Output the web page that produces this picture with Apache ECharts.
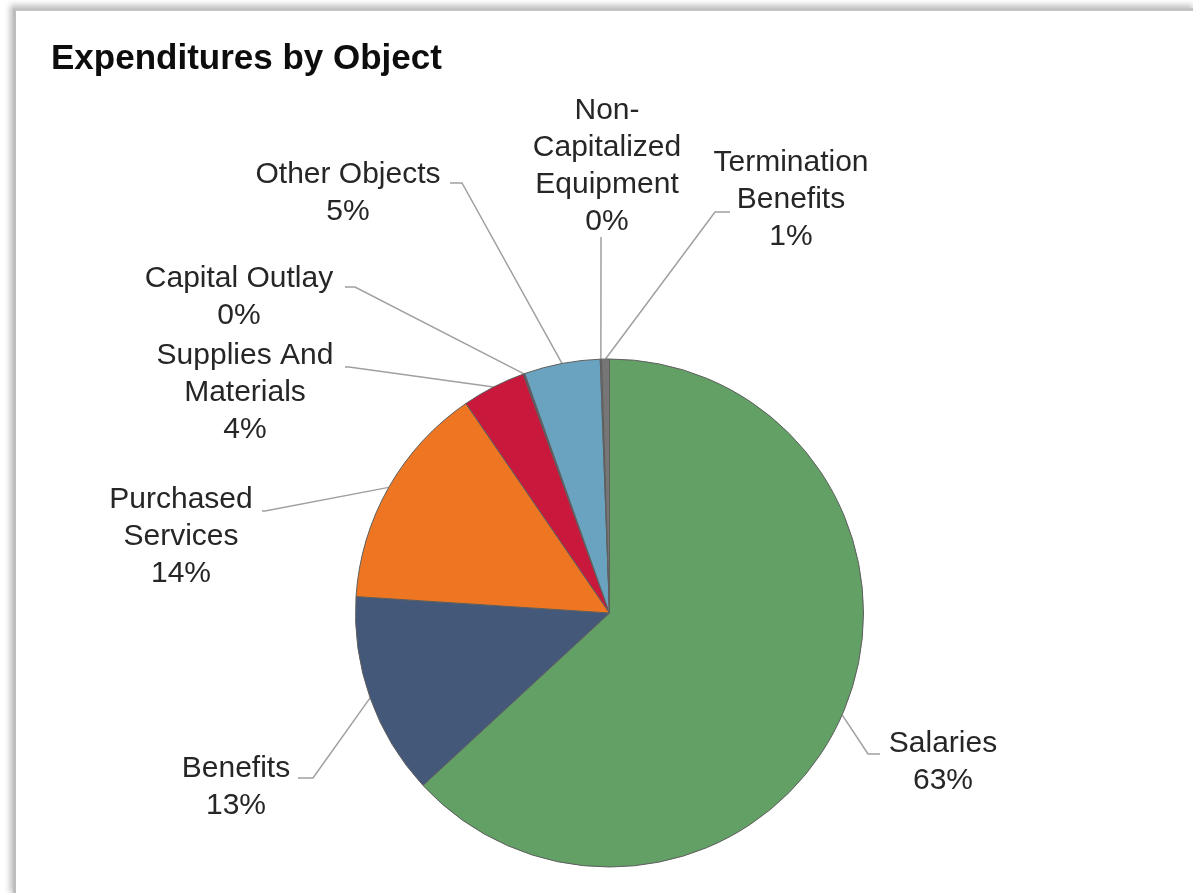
<!DOCTYPE html>
<html><head><meta charset="utf-8">
<script src="https://cdn.jsdelivr.net/npm/echarts@6/dist/echarts.min.js"></script>
<style>
html,body{margin:0;padding:0;background:#fff;width:1193px;height:893px;overflow:hidden}
#frame{position:absolute;left:13px;top:8px;width:1180px;height:884px;border-left:3px solid #bdbdbd;border-top:3px solid #c4c4c4;border-bottom:1px solid #e4e4e4;box-shadow:-3px -3px 6px rgba(0,0,0,0.25);background:#fff}
#chart{position:absolute;left:0;top:0;width:1193px;height:893px}
</style></head><body>
<div id="frame"></div><div id="chart"></div>
<script>
// ---- data ----
const categories = ['Salaries', 'Benefits', 'Purchased Services', 'Supplies And Materials', 'Capital Outlay', 'Other Objects', 'Non-Capitalized Equipment', 'Termination Benefits'];
const values = [63.1, 12.9, 14.4, 4.05, 0.1, 4.83, 0.08, 0.5];
const labelTexts = ['Salaries', 'Benefits', 'Purchased\nServices', 'Supplies And\nMaterials', 'Capital Outlay', 'Other Objects', 'Non-\nCapitalized\nEquipment', 'Termination\nBenefits'];
const colors = ['#63a066', '#44597a', '#ee7623', '#c8183b', '#5b4f72', '#6aa3bf', '#8a8a8a', '#767676'];

// ---- label layout (text block centre + leader-line bends) ----
const labelSpots = [
  { cx: 943, cy: 762, bend: [[868, 754], [880, 754]] },
  { cx: 236, cy: 787, bend: [[313, 778], [298, 778]] },
  { cx: 181, cy: 537, bend: [[265, 511], [262, 511]] },
  { cx: 245, cy: 393, bend: [[349, 367], [345, 367]] },
  { cx: 239, cy: 297, bend: [[355, 287], [345, 287]] },
  { cx: 348, cy: 193, bend: [[462, 183], [450, 183]] },
  { cx: 607, cy: 166, bend: [[601, 238], [601, 237]] },
  { cx: 791, cy: 200, bend: [[715, 212], [730, 212]] }
];

const chart = echarts.init(document.getElementById('chart'), null, { renderer: 'canvas' });
chart.setOption({
  animation: false,
  backgroundColor: 'transparent',
  title: {
    text: 'Expenditures by Object',
    left: 51, top: 42, padding: 0,
    textStyle: { fontFamily: 'Liberation Sans, Arial, sans-serif', fontWeight: 'bold', fontSize: 35, color: '#0d0d0d' }
  },
  series: [{
    type: 'pie',
    center: [609.5, 613],
    radius: 254,
    startAngle: 90,
    clockwise: true,
    percentPrecision: 0,
    avoidLabelOverlap: false,
    data: categories.map((n, i) => ({ name: n, value: values[i], itemStyle: { color: colors[i] } })),
    itemStyle: { borderColor: '#5e5e5e', borderWidth: 1 },
    emphasis: { disabled: true },
    label: {
      show: true,
      position: 'outside',
      formatter: p => labelTexts[p.dataIndex] + '\n' + p.percent + '%',
      fontFamily: 'Liberation Sans, Arial, sans-serif',
      fontSize: 30,
      lineHeight: 37,
      color: '#262626',
      align: 'center'
    },
    labelLine: { show: true, length: 20, length2: 10, lineStyle: { color: '#a0a0a0', width: 1.5 } },
    labelLayout: function (params) {
      const s = labelSpots[params.dataIndex];
      const start = params.labelLinePoints ? params.labelLinePoints[0] : s.bend[0];
      return {
        x: s.cx, y: s.cy, align: 'center', verticalAlign: 'middle',
        labelLinePoints: [start, s.bend[0], s.bend[1]]
      };
    }
  }]
});
</script>
</body></html>
